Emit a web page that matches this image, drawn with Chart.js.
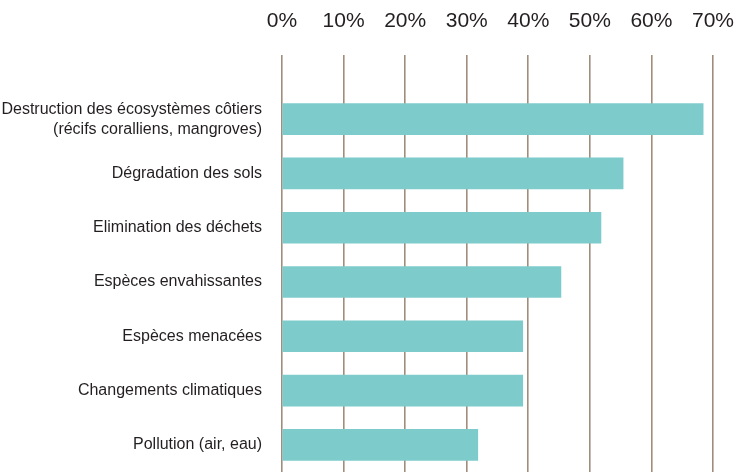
<!DOCTYPE html>
<html>
<head>
<meta charset="utf-8">
<script src="https://cdn.jsdelivr.net/npm/chart.js@4"></script>
<style>
  html, body { margin: 0; padding: 0; background: #ffffff; }
  #wrap { width: 735px; height: 472px; position: relative; }
</style>
</head>
<body>
<div id="wrap"><canvas id="threatsChart"></canvas></div>
<script>
const FONT = "'Liberation Sans', Arial, sans-serif";

const categories = [
    ['Destruction des écosystèmes côtiers', '(récifs coralliens, mangroves)'],
    'Dégradation des sols',
    'Elimination des déchets',
    'Espèces envahissantes',
    'Espèces menacées',
    'Changements climatiques',
    'Pollution (air, eau)'
];
const shares = [68.4, 55.4, 51.8, 45.3, 39.1, 39.1, 31.8];
const tickValues = [0, 10, 20, 30, 40, 50, 60, 70];

Chart.defaults.font.family = FONT;
Chart.defaults.color = '#231f20';

// drop the automatic edge padding so the plot area lands where the original has it
function noEdgePadding(scale) {
    scale.paddingTop = 0;
    scale.paddingBottom = 0;
    scale.paddingLeft = 0;
    scale.paddingRight = 0;
}

const ctx = document.getElementById('threatsChart').getContext('2d');
new Chart(ctx, {
    type: 'bar',
    data: {
        labels: categories,
        datasets: [{
            data: shares,
            backgroundColor: '#7ecbcb',
            borderWidth: 0,
            barThickness: 31
        }]
    },
    options: {
        indexAxis: 'y',
        responsive: true,
        maintainAspectRatio: false,
        animation: false,
        layout: { padding: { top: 9, right: 22, bottom: 0, left: 0 } },
        plugins: {
            legend: { display: false },
            tooltip: { enabled: false }
        },
        scales: {
            x: {
                position: 'top',
                min: tickValues[0],
                max: tickValues[tickValues.length - 1],
                afterBuildTicks: scale => { scale.ticks = tickValues.map(v => ({ value: v })); },
                afterFit: scale => {
                    noEdgePadding(scale);
                    scale.height = 83;
                },
                ticks: {
                    callback: v => v + '%',
                    font: { size: 21 },
                    color: '#231f20',
                    padding: 21,
                    maxRotation: 0
                },
                grid: {
                    color: '#a08d7c',
                    lineWidth: 1.6,
                    tickLength: 37,
                    tickColor: '#a08d7c'
                },
                border: { display: false }
            },
            y: {
                afterFit: scale => {
                    noEdgePadding(scale);
                    scale.width = 282;
                },
                ticks: {
                    font: { size: 16, lineHeight: 1.25 },
                    color: '#231f20',
                    padding: 20
                },
                grid: { display: false, drawTicks: false },
                border: { display: false }
            }
        }
    }
});
</script>
</body>
</html>
